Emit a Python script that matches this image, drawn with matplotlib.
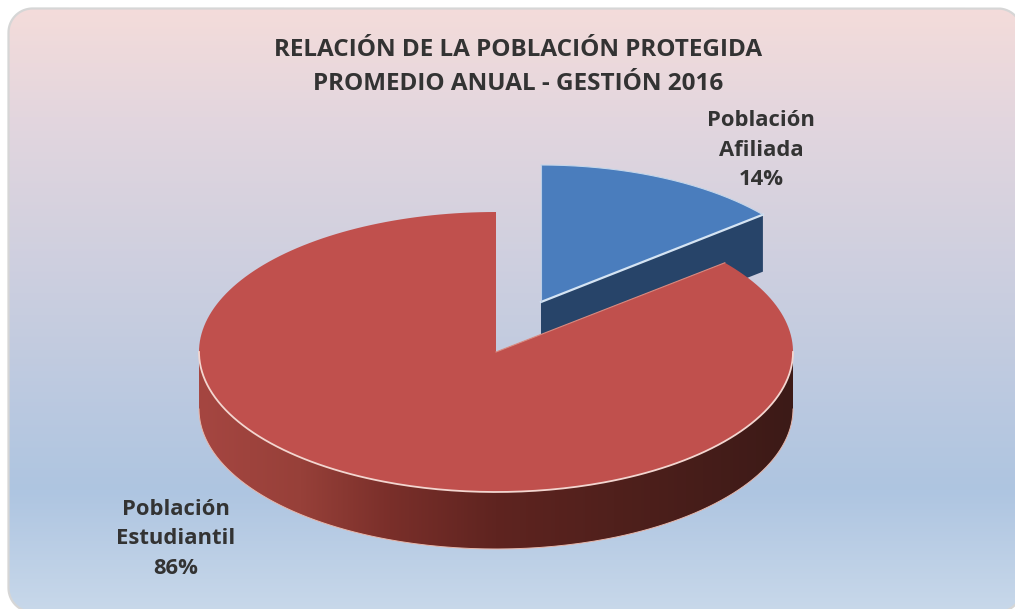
import numpy as np
import matplotlib
matplotlib.use('Agg')
import matplotlib.pyplot as plt
from matplotlib.colors import LinearSegmentedColormap
from matplotlib.patches import PathPatch, Polygon
from matplotlib.path import Path

# data
labels = ['Población\nAfiliada', 'Población\nEstudiantil']
values = [14, 86]
title = 'RELACIÓN DE LA POBLACIÓN PROTEGIDA\nPROMEDIO ANUAL - GESTIÓN 2016'

plt.rcParams['font.family'] = ['Open Sans', 'DejaVu Sans']

W, H = 1015, 609
fig = plt.figure(figsize=(W / 100, H / 100), dpi=100)
ax = fig.add_axes([0, 0, 1, 1])
ax.set_xlim(0, W)
ax.set_ylim(H, 0)
ax.axis('off')


def arc(cx, cy, rx, ry, a0, a1):
    # angles clockwise from 12 o'clock, in degrees
    t = np.radians(np.linspace(a0, a1, 200))
    return np.column_stack([cx + rx * np.sin(t), cy - ry * np.cos(t)])


# background card, runs off the right and bottom of the picture
x0, y0, x1, y1, r = 8.5, 8.5, 1022, 612, 24
outline = np.vstack([arc(x0 + r, y0 + r, r, r, 270, 360), arc(x1 - r, y0 + r, r, r, 0, 90),
                     arc(x1 - r, y1 - r, r, r, 90, 180), arc(x0 + r, y1 - r, r, r, 180, 270)])
outline = np.vstack([outline, outline[:1]])
bg = LinearSegmentedColormap.from_list('bg', [
    (0.0, '#f4dcda'), (0.18, '#e3d6de'), (0.80, '#aec5e1'), (1.0, '#c8d8ea')])
card = PathPatch(Path(outline), fc='none', ec='#d6d6d6', lw=1.6, zorder=3)
ax.add_patch(card)
im = ax.imshow(np.linspace(0, 1, 256)[:, None], cmap=bg, extent=(x0, x1, y1, y0),
               aspect='auto', zorder=1)
im.set_clip_path(card)
ax.set_xlim(0, W)
ax.set_ylim(H, 0)


def gradient_fill(pts, stops, zorder):
    patch = PathPatch(Path(np.vstack([pts, pts[:1]])), fc='none', ec='none', zorder=zorder)
    ax.add_patch(patch)
    cm = LinearSegmentedColormap.from_list('side', stops)
    xa, ya = pts.min(axis=0)
    xb, yb = pts.max(axis=0)
    g = ax.imshow(np.linspace(0, 1, 256)[None, :], cmap=cm, extent=(xa, xb, yb, ya),
                  aspect='auto', zorder=zorder)
    g.set_clip_path(patch)
    ax.set_xlim(0, W)
    ax.set_ylim(H, 0)


shares = np.array(values) / sum(values) * 360
depth = 57

# blue slice, pulled out
bx, by, brx, bry = 541, 302, 288, 137
rim = arc(bx, by, brx, bry, 0, shares[0])
wall = np.array([[bx, by], rim[-1], rim[-1] + [0, depth], [bx, by + depth]])
ax.add_patch(Polygon(wall, fc='#274469', ec='none', zorder=4))
ax.add_patch(Polygon(np.vstack([[bx, by], rim]), fc='#4a7dbd', ec='none', zorder=5))
ax.plot([bx, rim[-1][0]], [by, rim[-1][1]], color='#d5e4f3', lw=1.6, zorder=6)
ax.plot(rim[:, 0], rim[:, 1], color='#c4d6ea', lw=0.8, zorder=6)
ax.plot([bx, bx], [by, by - bry], color='#b9cde6', lw=0.8, zorder=6)

# red slice
cx, cy, rx, ry = 496, 352, 297, 140
rim = arc(cx, cy, rx, ry, shares[0], 360)
front = arc(cx, cy, rx, ry, 90, 270)
side = np.vstack([front, (front + [0, depth])[::-1]])
gradient_fill(side, [(0, '#a54641'), (0.17, '#974039'), (0.32, '#7a2f2a'),
                     (0.5, '#5f2420'), (0.7, '#50201c'), (1, '#3c1a17')], 7)
ax.plot(side[200:, 0], side[200:, 1], color='#e8b8ac', lw=0.7, zorder=8)
ax.add_patch(Polygon(np.vstack([[cx, cy], rim]), fc='#c0504d', ec='none', zorder=9))
ax.plot(front[:, 0], front[:, 1], color='#f3d6d0', lw=1.3, zorder=10)
ax.plot([cx, rim[0][0]], [cy, rim[0][1]], color='#d98a80', lw=0.8, zorder=10)

# text
txt = dict(ha='center', va='center', color='#333333', fontweight='bold', zorder=11)
ax.text(518, 67, title, fontsize=17.5, linespacing=1.5, **txt)
ax.text(761, 150, f'{labels[0]}\n{values[0]}%', fontsize=15.8, linespacing=1.56, **txt)
ax.text(176, 539, f'{labels[1]}\n{values[1]}%', fontsize=15.8, linespacing=1.56, **txt)

fig.savefig('out.png', dpi=100)
